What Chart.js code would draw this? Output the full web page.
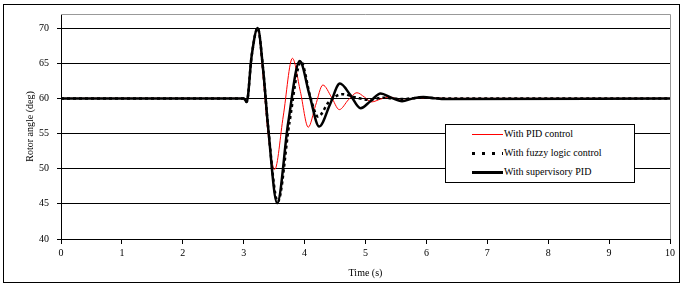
<!DOCTYPE html>
<html>
<head>
<meta charset="utf-8">
<script src="https://cdn.jsdelivr.net/npm/chart.js@4.4.0/dist/chart.umd.min.js"></script>
<style>
  body { margin: 0; background: #fff; }
  #wrap { position: relative; width: 682px; height: 284px; }
  #legend {
    position: absolute; left: 445px; top: 124px; width: 188px; height: 57px;
    border: 1px solid #000; background: #fff;
    font-family: "Liberation Serif", "DejaVu Serif", serif; font-size: 10px; color: #000;
  }
  .row { position: absolute; left: 0; height: 12px; line-height: 12px; }
  .sample { position: absolute; left: 26px; width: 31px; }
  .txt { position: absolute; left: 58px; white-space: nowrap; top: 0; }
</style>
</head>
<body>
<div id="wrap">
  <canvas id="chart" width="682" height="284"></canvas>
  <div id="legend">
    <div class="row" style="top:3px"><div class="sample" style="top:6px;height:1px;background:#ff0000"></div><span class="txt">With PID control</span></div>
    <div class="row" style="top:22px"><div class="sample" style="top:5px;height:3px;background:repeating-linear-gradient(to right,#000 0 3px,transparent 3px 10px)"></div><span class="txt">With fuzzy logic control</span></div>
    <div class="row" style="top:41px"><div class="sample" style="top:5px;height:3px;background:#000"></div><span class="txt">With supervisory PID</span></div>
  </div>
</div>
<script>
// time (s) and rotor angle (deg)
const pidT = [0, 3.0, 3.05, 3.13, 3.23, 3.32, 3.4, 3.51, 3.65, 3.8, 3.93, 4.06, 4.18, 4.3, 4.44, 4.57, 4.72, 4.86, 4.98, 5.1, 5.25, 5.4, 5.6, 5.8, 6.0, 6.3, 10];
const pidV = [60, 60, 59.5, 66, 70, 63, 55, 49.9, 57.5, 65.7, 61, 55.9, 59, 61.9, 60.2, 58.4, 59.8, 60.8, 60.2, 59.5, 59.9, 60.2, 59.7, 60.0, 60.1, 60, 60];

const fuzzyT = [0, 3.0, 3.05, 3.13, 3.23, 3.32, 3.4, 3.56, 3.75, 3.94, 4.1, 4.22, 4.4, 4.62, 4.85, 5.05, 5.3, 5.6, 5.9, 6.3, 10];
const fuzzyV = [60, 60, 59.5, 66, 70, 64, 56, 45.3, 56.5, 65.2, 60, 57.4, 59.5, 60.6, 60.1, 59.8, 60.1, 59.9, 60.1, 60, 60];

const supT = [0, 3.0, 3.05, 3.13, 3.23, 3.32, 3.4, 3.55, 3.73, 3.92, 4.08, 4.24, 4.42, 4.58, 4.75, 4.92, 5.08, 5.25, 5.42, 5.6, 5.78, 5.95, 6.15, 6.3, 10];
const supV = [60, 60, 59.5, 66, 70, 64, 56, 45.1, 56.5, 65.3, 60.5, 56, 59.2, 62.1, 60.5, 58.6, 59.6, 60.7, 60.1, 59.6, 60.0, 60.2, 60.0, 59.9, 60];

const xTicks = [0, 1, 2, 3, 4, 5, 6, 7, 8, 9, 10];
const yTicks = [40, 45, 50, 55, 60, 65, 70];

function pts(ts, vs) {
  return ts.map((t, i) => ({ x: t, y: vs[i] }));
}

const serif = "'Liberation Serif', 'DejaVu Serif', serif";

// gray top/right border of the plot and the outer frame
const frame = {
  id: "frame",
  afterDraw(chart) {
    const ctx = chart.ctx;
    const a = chart.chartArea;
    ctx.save();
    ctx.strokeStyle = "#999";
    ctx.lineWidth = 1;
    ctx.beginPath();
    ctx.moveTo(a.left, a.top + 0.5);
    ctx.lineTo(a.right + 0.5, a.top + 0.5);
    ctx.lineTo(a.right + 0.5, a.bottom);
    ctx.stroke();
    ctx.strokeStyle = "#000";
    ctx.strokeRect(3.5, 4.5, 676, 278);
    ctx.restore();
  }
};

new Chart(document.getElementById("chart"), {
  type: "line",
  data: {
    datasets: [
      {
        label: "With supervisory PID",
        data: pts(supT, supV),
        borderColor: "#000",
        borderWidth: 2.5,
        order: 1
      },
      {
        label: "With fuzzy logic control",
        data: pts(fuzzyT, fuzzyV),
        borderColor: "#000",
        borderWidth: 2.5,
        borderDash: [3, 3],
        order: 2
      },
      {
        label: "With PID control",
        data: pts(pidT, pidV),
        borderColor: "#ff0000",
        borderWidth: 1,
        order: 3
      }
    ]
  },
  options: {
    responsive: false,
    animation: false,
    devicePixelRatio: 1,
    layout: { padding: { left: 0, top: 14, right: 12, bottom: 0 } },
    elements: {
      point: { radius: 0 },
      line: { cubicInterpolationMode: "monotone" }
    },
    plugins: { legend: { display: false }, tooltip: { enabled: false } },
    scales: {
      x: {
        type: "linear",
        min: 0,
        max: 10,
        afterBuildTicks(scale) {
          scale.ticks = xTicks.map(v => ({ value: v }));
        },
        afterFit(scale) { scale.height = 45; },
        ticks: {
          color: "#000",
          padding: 3,
          maxRotation: 0,
          font: { family: serif, size: 10 }
        },
        grid: { drawOnChartArea: false, drawTicks: true, tickLength: 5, color: "#000" },
        border: { color: "#000" },
        title: {
          display: true,
          text: "Time (s)",
          color: "#000",
          font: { family: serif, size: 10 },
          padding: { top: 0, bottom: 5 }
        }
      },
      y: {
        min: 40,
        max: 72,
        afterBuildTicks(scale) {
          scale.ticks = yTicks.map(v => ({ value: v }));
        },
        afterFit(scale) { scale.width = 61; },
        ticks: {
          color: "#000",
          padding: 8,
          font: { family: serif, size: 10 }
        },
        grid: { color: "#000", lineWidth: 1, tickLength: 4 },
        border: { color: "#000" },
        title: {
          display: true,
          text: "Rotor angle (deg)",
          color: "#000",
          font: { family: serif, size: 10 },
          padding: { top: 24, bottom: 0 }
        }
      }
    }
  },
  plugins: [frame]
});
</script>
</body>
</html>
